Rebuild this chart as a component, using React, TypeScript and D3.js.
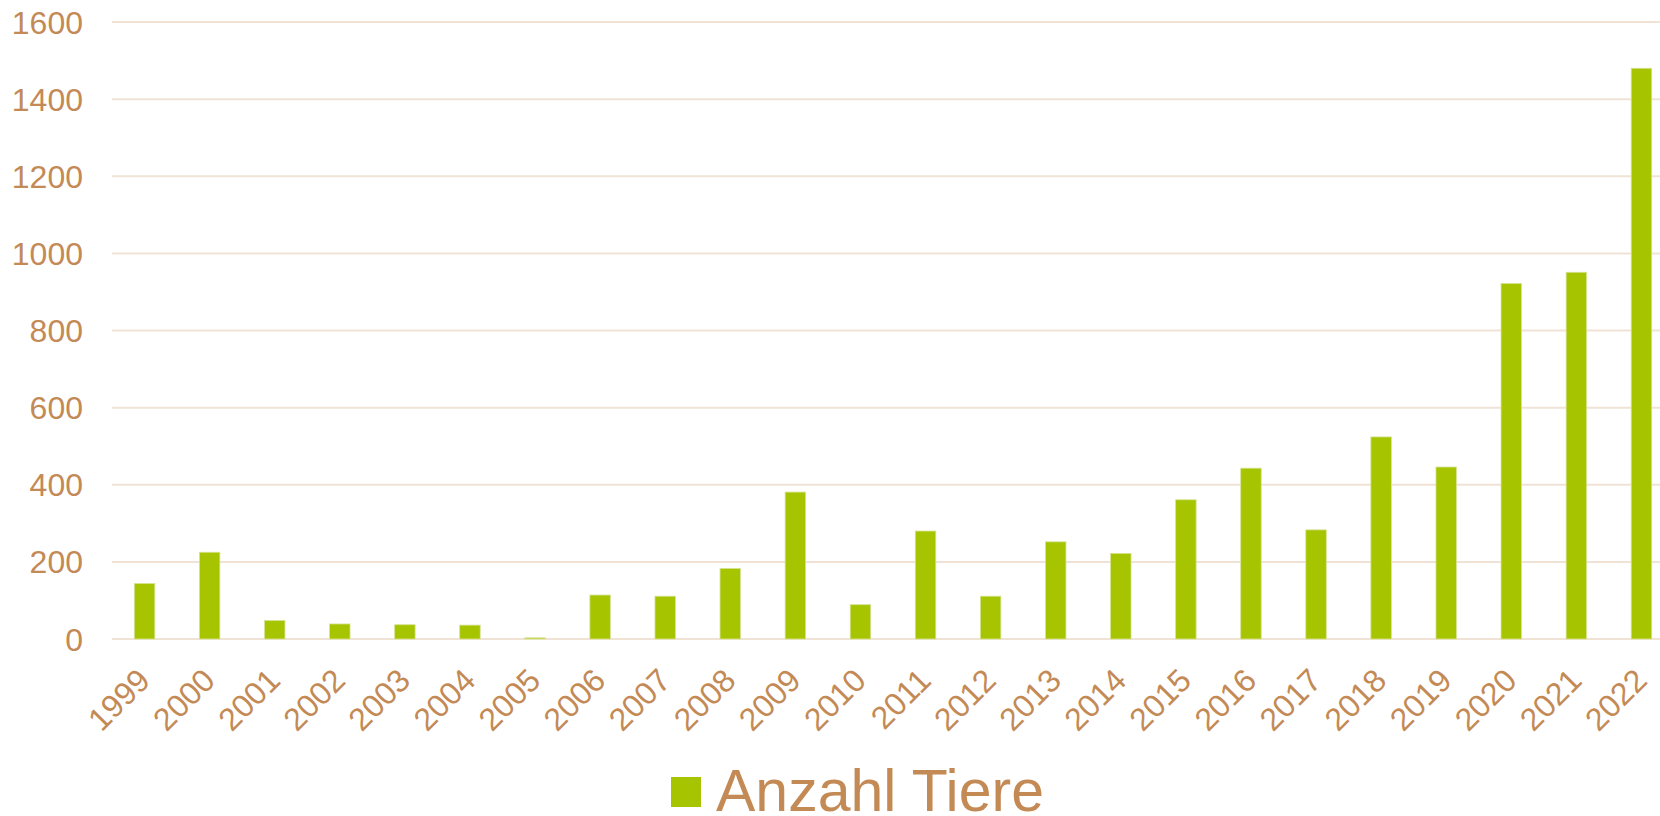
import { useEffect, useRef } from 'react'
import * as d3 from 'd3'

// Jahre und Anzahl Tiere
const years = [
  '1999', '2000', '2001', '2002', '2003', '2004', '2005', '2006',
  '2007', '2008', '2009', '2010', '2011', '2012', '2013', '2014',
  '2015', '2016', '2017', '2018', '2019', '2020', '2021', '2022'
]
const anzahlTiere = [
  144, 225, 48, 39, 37, 36, 3, 114,
  111, 183, 381, 89, 280, 111, 252, 222,
  361, 443, 283, 524, 446, 922, 951, 1480
]
const yTicks = [0, 200, 400, 600, 800, 1000, 1200, 1400, 1600]
const seriesName = 'Anzahl Tiere'

const WIDTH = 1660
const HEIGHT = 816
const TEXT_COLOR = '#C38A56'
const BAR_COLOR = '#A6C500'
const GRID_COLOR = '#F0E3D6'
const FONT = '"Liberation Sans", Arial, sans-serif'

export default function App() {
  const svgRef = useRef<SVGSVGElement>(null)

  useEffect(() => {
    if (!svgRef.current) return
    const svg = d3.select(svgRef.current)
    svg.selectAll('*').remove()

    const margin = { top: 22, left: 112, bottom: 177 }
    const plotRight = 1674 // the chart runs slightly past the picture edge

    const x = d3.scaleBand<string>().domain(years).range([margin.left, plotRight]).padding(0)
    const y = d3.scaleLinear().domain([0, 1600]).range([HEIGHT - margin.bottom, margin.top])
    const barWidth = x.bandwidth() * 0.315

    // Gitternetz
    svg.append('g')
      .selectAll('line')
      .data(yTicks)
      .enter()
      .append('line')
      .attr('x1', margin.left)
      .attr('x2', plotRight)
      .attr('y1', d => y(d))
      .attr('y2', d => y(d))
      .attr('stroke', GRID_COLOR)
      .attr('stroke-width', 2)

    // y-Achse Beschriftung
    svg.append('g')
      .selectAll('text')
      .data(yTicks)
      .enter()
      .append('text')
      .attr('x', 83)
      .attr('y', d => y(d))
      .attr('dy', '0.36em')
      .attr('text-anchor', 'end')
      .style('font-family', FONT)
      .style('font-size', '32px')
      .style('fill', TEXT_COLOR)
      .text(d => d)

    // Balken
    svg.append('g')
      .selectAll('rect')
      .data(anzahlTiere)
      .enter()
      .append('rect')
      .attr('x', (_, i) => (x(years[i]) || 0) + (x.bandwidth() - barWidth) / 2)
      .attr('y', d => y(d))
      .attr('width', barWidth)
      .attr('height', d => y(0) - y(d))
      .attr('fill', BAR_COLOR)
      .attr('stroke', '#D6E395')
      .attr('stroke-width', 0.8)

    // x-Achse Beschriftung (gedreht)
    svg.append('g')
      .selectAll('text')
      .data(years)
      .enter()
      .append('text')
      .attr('transform', d => {
        const cx = (x(d) || 0) + x.bandwidth() / 2 - 9
        return `translate(${cx},${y(0) + 27}) rotate(-45)`
      })
      .attr('dy', '0.72em')
      .attr('text-anchor', 'end')
      .style('font-family', FONT)
      .style('font-size', '32px')
      .style('fill', TEXT_COLOR)
      .text(d => d)

    // Legende
    const legend = svg.append('g')
    legend.append('rect')
      .attr('x', 671)
      .attr('y', 777)
      .attr('width', 30)
      .attr('height', 30)
      .attr('fill', BAR_COLOR)
    legend.append('text')
      .attr('x', 716)
      .attr('y', 811)
      .style('font-family', FONT)
      .style('font-size', '59px')
      .style('fill', TEXT_COLOR)
      .text(seriesName)
  }, [])

  return (
    <svg
      ref={svgRef}
      width={WIDTH}
      height={HEIGHT}
      style={{ position: 'absolute', left: 0, top: 0, background: '#fff' }}
    />
  )
}
